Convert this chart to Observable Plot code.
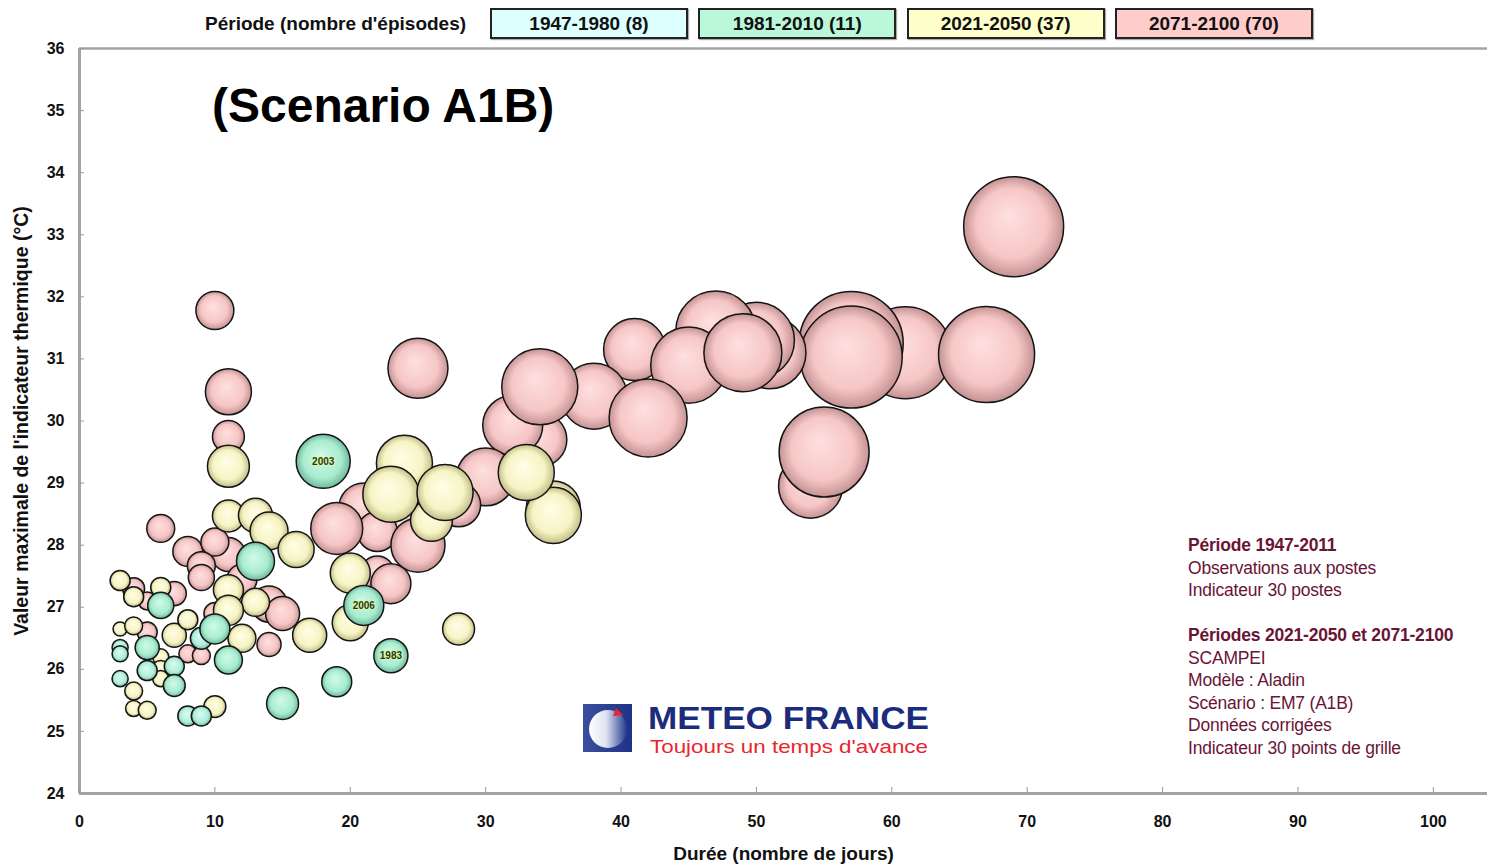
<!DOCTYPE html>
<html>
<head>
<meta charset="utf-8">
<script src="https://cdn.jsdelivr.net/npm/d3@7"></script>
<script src="https://cdn.jsdelivr.net/npm/@observablehq/plot@0.6"></script>
<style>
  body { margin: 0; background: #fff; }
  #wrap { position: relative; width: 1487px; height: 865px; overflow: hidden; font-family: "Liberation Sans", Arial, sans-serif; }
  #legend { position: absolute; left: 0; top: 0; width: 1487px; height: 40px; }
  .lgTitle { position: absolute; left: 205px; top: 8px; height: 32px; line-height: 31px; font-weight: bold; font-size: 19px; color: #111; white-space: nowrap; }
  .lgBox { position: absolute; top: 8px; width: 194px; height: 27px; border: 2px solid #222; text-align: center; line-height: 27px; font-weight: bold; font-size: 19px; color: #111; box-shadow: 1px 1px 1px #aaa; white-space: nowrap; }
  #chart { position: absolute; left: 0; top: 40px; }
  #scenario { position: absolute; left: 212px; top: 81px; font-size: 48px; font-weight: bold; line-height: 50px; color: #000; white-space: nowrap; }
  #note { position: absolute; left: 1188px; top: 534px; font-size: 17.5px; line-height: 22.5px; color: #6a1436; white-space: pre; letter-spacing: -0.2px; }
  #logo { position: absolute; left: 583px; top: 695px; }
</style>
</head>
<body>
<div id="wrap">
  <div id="legend"></div>
  <div id="chart"></div>
  <div id="scenario"></div>
  <div id="note"></div>
  <svg id="logo" width="360" height="70"></svg>
</div>
<script>
// ---- Legend / periods ----
const legendTitle = "Période (nombre d'épisodes)";
const periods = ["1947-1980 (8)", "1981-2010 (11)", "2021-2050 (37)", "2071-2100 (70)"];
const legendFill = ["#ddffff", "#bbf7d9", "#ffffcc", "#ffcccc"];
const bubbleFill = ["#b2eedb", "#a9ecd0", "#f6f4c4", "#f6c6c6"];
const bubbleLight = ["#d8fdf1", "#d0fbe8", "#fffee8", "#ffe0e0"];
const bubbleDark = ["#74bba4", "#6fb99c", "#c2be8a", "#c49292"];

// ---- Axis ----
const xTicks = [0, 10, 20, 30, 40, 50, 60, 70, 80, 90, 100];
const yTicks = [24, 25, 26, 27, 28, 29, 30, 31, 32, 33, 34, 35, 36];
const xTitle = "Durée (nombre de jours)";
const yTitle = "Valeur maximale de l'indicateur thermique (°C)";
const scenarioTitle = "(Scenario A1B)";

// ---- Episodes: [durée (jours), valeur max (°C), intensité] ----
const ep2071 = [
  [61, 31.1, 84.6], [57, 31.25, 108.2], [57, 31.03, 104], [67, 31.07, 92.2],
  [69, 33.13, 100], [54, 28.95, 41], [55, 29.5, 81],
  [51, 31.1, 51.8], [50, 31.3, 57.8], [41, 31.15, 38.4], [47, 31.45, 64],
  [45, 30.9, 57.8], [49, 31.1, 60.8], [38, 30.4, 43.6], [42, 30.05, 60.8],
  [34, 29.7, 29.2], [32, 29.93, 36], [34, 30.55, 57.8], [30, 29.1, 33.6],
  [28, 28.65, 19.4], [25, 30.85, 36], [21, 28.6, 25], [24, 28.3, 17.6],
  [22, 28.22, 16], [19, 28.27, 27], [25, 28.0, 29.2], [22, 27.55, 11.6],
  [23, 27.38, 16], [11, 30.47, 21.2], [10, 31.78, 14.4], [11, 29.75, 10.2],
  [11, 27.85, 11.6], [12, 27.45, 9], [6, 28.27, 7.8], [8, 27.9, 9],
  [10, 28.05, 7.8], [9, 27.67, 7.8], [9, 27.48, 6.8], [14, 27.05, 13],
  [15, 26.9, 11.6], [14, 26.4, 5.8], [10, 26.9, 4.8], [4, 27.3, 4.8],
  [7, 27.22, 5.8], [5, 27.1, 3.2], [5, 26.6, 4], [8, 26.25, 3.2], [9, 26.22, 3.2]
];
const ep2021 = [
  [26, 28.4, 17.6], [24, 29.32, 31.4], [23, 28.82, 31.4], [27, 28.85, 31.4],
  [35, 28.6, 29.2], [35, 28.48, 31.4], [33, 29.17, 31.4], [11, 29.27, 17.6],
  [11, 28.47, 10.2], [13, 28.48, 11.6], [14, 28.23, 14.4], [16, 27.93, 13],
  [20, 27.55, 16], [20, 26.75, 13], [28, 26.65, 10.2], [17, 26.55, 11.6],
  [11, 27.28, 9], [13, 27.08, 7.8], [11, 26.95, 9], [12, 26.5, 7.8],
  [7, 26.55, 5.8], [8, 26.8, 4], [3, 27.43, 4], [4, 27.17, 4], [6, 27.32, 4],
  [3, 26.65, 2], [4, 26.7, 3.2], [6, 26.2, 2.6], [6, 26.0, 3.2], [6, 25.85, 2.6],
  [4, 25.65, 3.2], [4, 25.37, 2.6], [5, 25.34, 3.2], [10, 25.4, 4.8]
];
const ep1947 = [
  [9, 26.5, 4.8], [3, 26.35, 2.6], [3, 26.25, 2.6], [5, 25.98, 4],
  [7, 26.05, 4], [3, 25.85, 2.6], [8, 25.25, 4], [9, 25.25, 4]
];
const ep1981 = [
  [18, 29.35, 29.2, "2003"], [21, 27.03, 16, "2006"], [23, 26.22, 11.6, "1983"],
  [13, 27.74, 14.4], [10, 26.65, 9], [11, 26.15, 7.8], [15, 25.45, 10.2],
  [19, 25.8, 9], [6, 27.03, 6.8], [5, 26.35, 5.8], [7, 25.74, 4.8]
];

// ---- Notes ----
const noteLines = [
  ["Période 1947-2011", true], ["Observations aux postes", false], ["Indicateur 30 postes", false],
  ["", false],
  ["Périodes 2021-2050 et 2071-2100", true], ["SCAMPEI", false], ["Modèle : Aladin", false],
  ["Scénario : EM7 (A1B)", false], ["Données corrigées", false], ["Indicateur 30 points de grille", false]
];
const logoTitle = "METEO FRANCE";
const logoSlogan = "Toujours un temps d'avance";

// ---- Build rows (draw order: 2071-2100, 2021-2050, 1947-1980, 1981-2010) ----
const toRows = (arr, p) => arr.map(([dur, tmax, intensity, label]) => ({period: periods[p], dur, tmax, intensity, label}));
const rows = [...toRows(ep2071, 3), ...toRows(ep2021, 2), ...toRows(ep1947, 0), ...toRows(ep1981, 1)];

const FONT = '"Liberation Sans", Arial, sans-serif';

// Legend
const lg = document.getElementById("legend");
const t = document.createElement("div"); t.className = "lgTitle"; t.textContent = legendTitle; lg.appendChild(t);
periods.forEach((p, i) => {
  const b = document.createElement("div");
  b.className = "lgBox";
  b.style.left = (490 + i * 208.3) + "px";
  b.style.background = legendFill[i];
  b.textContent = p;
  lg.appendChild(b);
});

const svg = Plot.plot({
  width: 1487,
  height: 825,
  marginLeft: 79,
  marginRight: 0,
  marginTop: 8,
  marginBottom: 72,
  style: {fontFamily: FONT, fontSize: "16px", fontWeight: "bold", color: "#111", overflow: "visible", background: "transparent"},
  x: {domain: [0, 104]},
  y: {domain: [24, 36]},
  r: {domain: [0, 100], range: [0, 50]},
  color: {domain: periods, range: bubbleFill},
  marks: [
    Plot.dot(rows, {x: "dur", y: "tmax", r: "intensity", fill: "period", stroke: "#151515", strokeWidth: 1.5, sort: null}),
    Plot.text(rows.filter(d => d.label), {x: "dur", y: "tmax", text: "label", fontSize: 10, fontWeight: "bold", fill: "#1d3b22", stroke: "#e4f39c", strokeWidth: 1.5, paintOrder: "stroke"}),
    Plot.ruleY([36], {stroke: "#a3a3a3", strokeWidth: 2.5}),
    Plot.ruleY([24], {stroke: "#a3a3a3", strokeWidth: 3}),
    Plot.ruleX([0], {stroke: "#a3a3a3", strokeWidth: 3}),
    Plot.axisY(yTicks, {tickSize: 0, tickPadding: 15, tickFormat: "d", label: null}),
    Plot.axisY(yTicks, {tickSize: -5, text: null, label: null, stroke: "#9a9a9a"}),
    Plot.axisX(xTicks, {tickSize: 0, tickPadding: 22, tickFormat: "d", label: null}),
    Plot.axisX(xTicks, {tickSize: -6, text: null, label: null, stroke: "#9a9a9a"}),
    Plot.axisY({ticks: [], label: yTitle, labelAnchor: "center", labelArrow: "none", labelOffset: 65, fontSize: 19.5}),
    Plot.axisX({ticks: [], label: xTitle, labelAnchor: "center", labelArrow: "none", labelOffset: 66, fontSize: 19})
  ]
});

// gradients for bubble shading
const defs = d3.select(svg).insert("defs", ":first-child");
bubbleFill.forEach((c, i) => {
  const g = defs.append("radialGradient").attr("id", "bub" + i)
    .attr("cx", "50%").attr("cy", "50%").attr("r", "50%").attr("fx", "44%").attr("fy", "38%");
  g.append("stop").attr("offset", "0%").attr("stop-color", bubbleLight[i]);
  g.append("stop").attr("offset", "70%").attr("stop-color", c);
  g.append("stop").attr("offset", "100%").attr("stop-color", bubbleDark[i]);
});
const fillMap = new Map(bubbleFill.map((c, i) => [c, `url(#bub${i})`]));
d3.select(svg).selectAll("circle").each(function () {
  const f = this.getAttribute("fill");
  if (fillMap.has(f)) this.setAttribute("fill", fillMap.get(f));
});

document.getElementById("chart").appendChild(svg);

// Scenario title
document.getElementById("scenario").textContent = scenarioTitle;

// Notes
const note = document.getElementById("note");
noteLines.forEach(([txt, bold]) => {
  const d = document.createElement("div");
  d.style.height = "22.5px";
  if (bold) d.style.fontWeight = "bold";
  d.textContent = txt;
  note.appendChild(d);
});

// Logo
const logo = d3.select("#logo");
const ld = logo.append("defs");
const lgr = ld.append("linearGradient").attr("id", "logoG").attr("x1", "0%").attr("x2", "100%");
lgr.append("stop").attr("offset", "0%").attr("stop-color", "#ffffff");
lgr.append("stop").attr("offset", "45%").attr("stop-color", "#dfe3f2");
lgr.append("stop").attr("offset", "100%").attr("stop-color", "#22378c");
const lsq = ld.append("linearGradient").attr("id", "logoS").attr("x1", "0%").attr("x2", "100%");
lsq.append("stop").attr("offset", "0%").attr("stop-color", "#3a4f9e");
lsq.append("stop").attr("offset", "100%").attr("stop-color", "#1f3285");
logo.append("rect").attr("x", 0).attr("y", 9).attr("width", 49).attr("height", 48).attr("fill", "url(#logoS)");
logo.append("circle").attr("cx", 25).attr("cy", 34).attr("r", 19).attr("fill", "url(#logoG)");
logo.append("path").attr("d", "M33,13 L40,20 L30,21 Z").attr("fill", "#e8262d");
logo.append("text").attr("x", 65).attr("y", 34).attr("font-family", FONT).attr("font-weight", "bold")
  .attr("font-size", 32).attr("fill", "#1c2c7c").attr("textLength", 281).attr("lengthAdjust", "spacingAndGlyphs").text(logoTitle);
logo.append("text").attr("x", 67).attr("y", 58).attr("font-family", FONT)
  .attr("font-size", 18.5).attr("fill", "#e8262d").attr("textLength", 278).attr("lengthAdjust", "spacingAndGlyphs").text(logoSlogan);
</script>
</body>
</html>
